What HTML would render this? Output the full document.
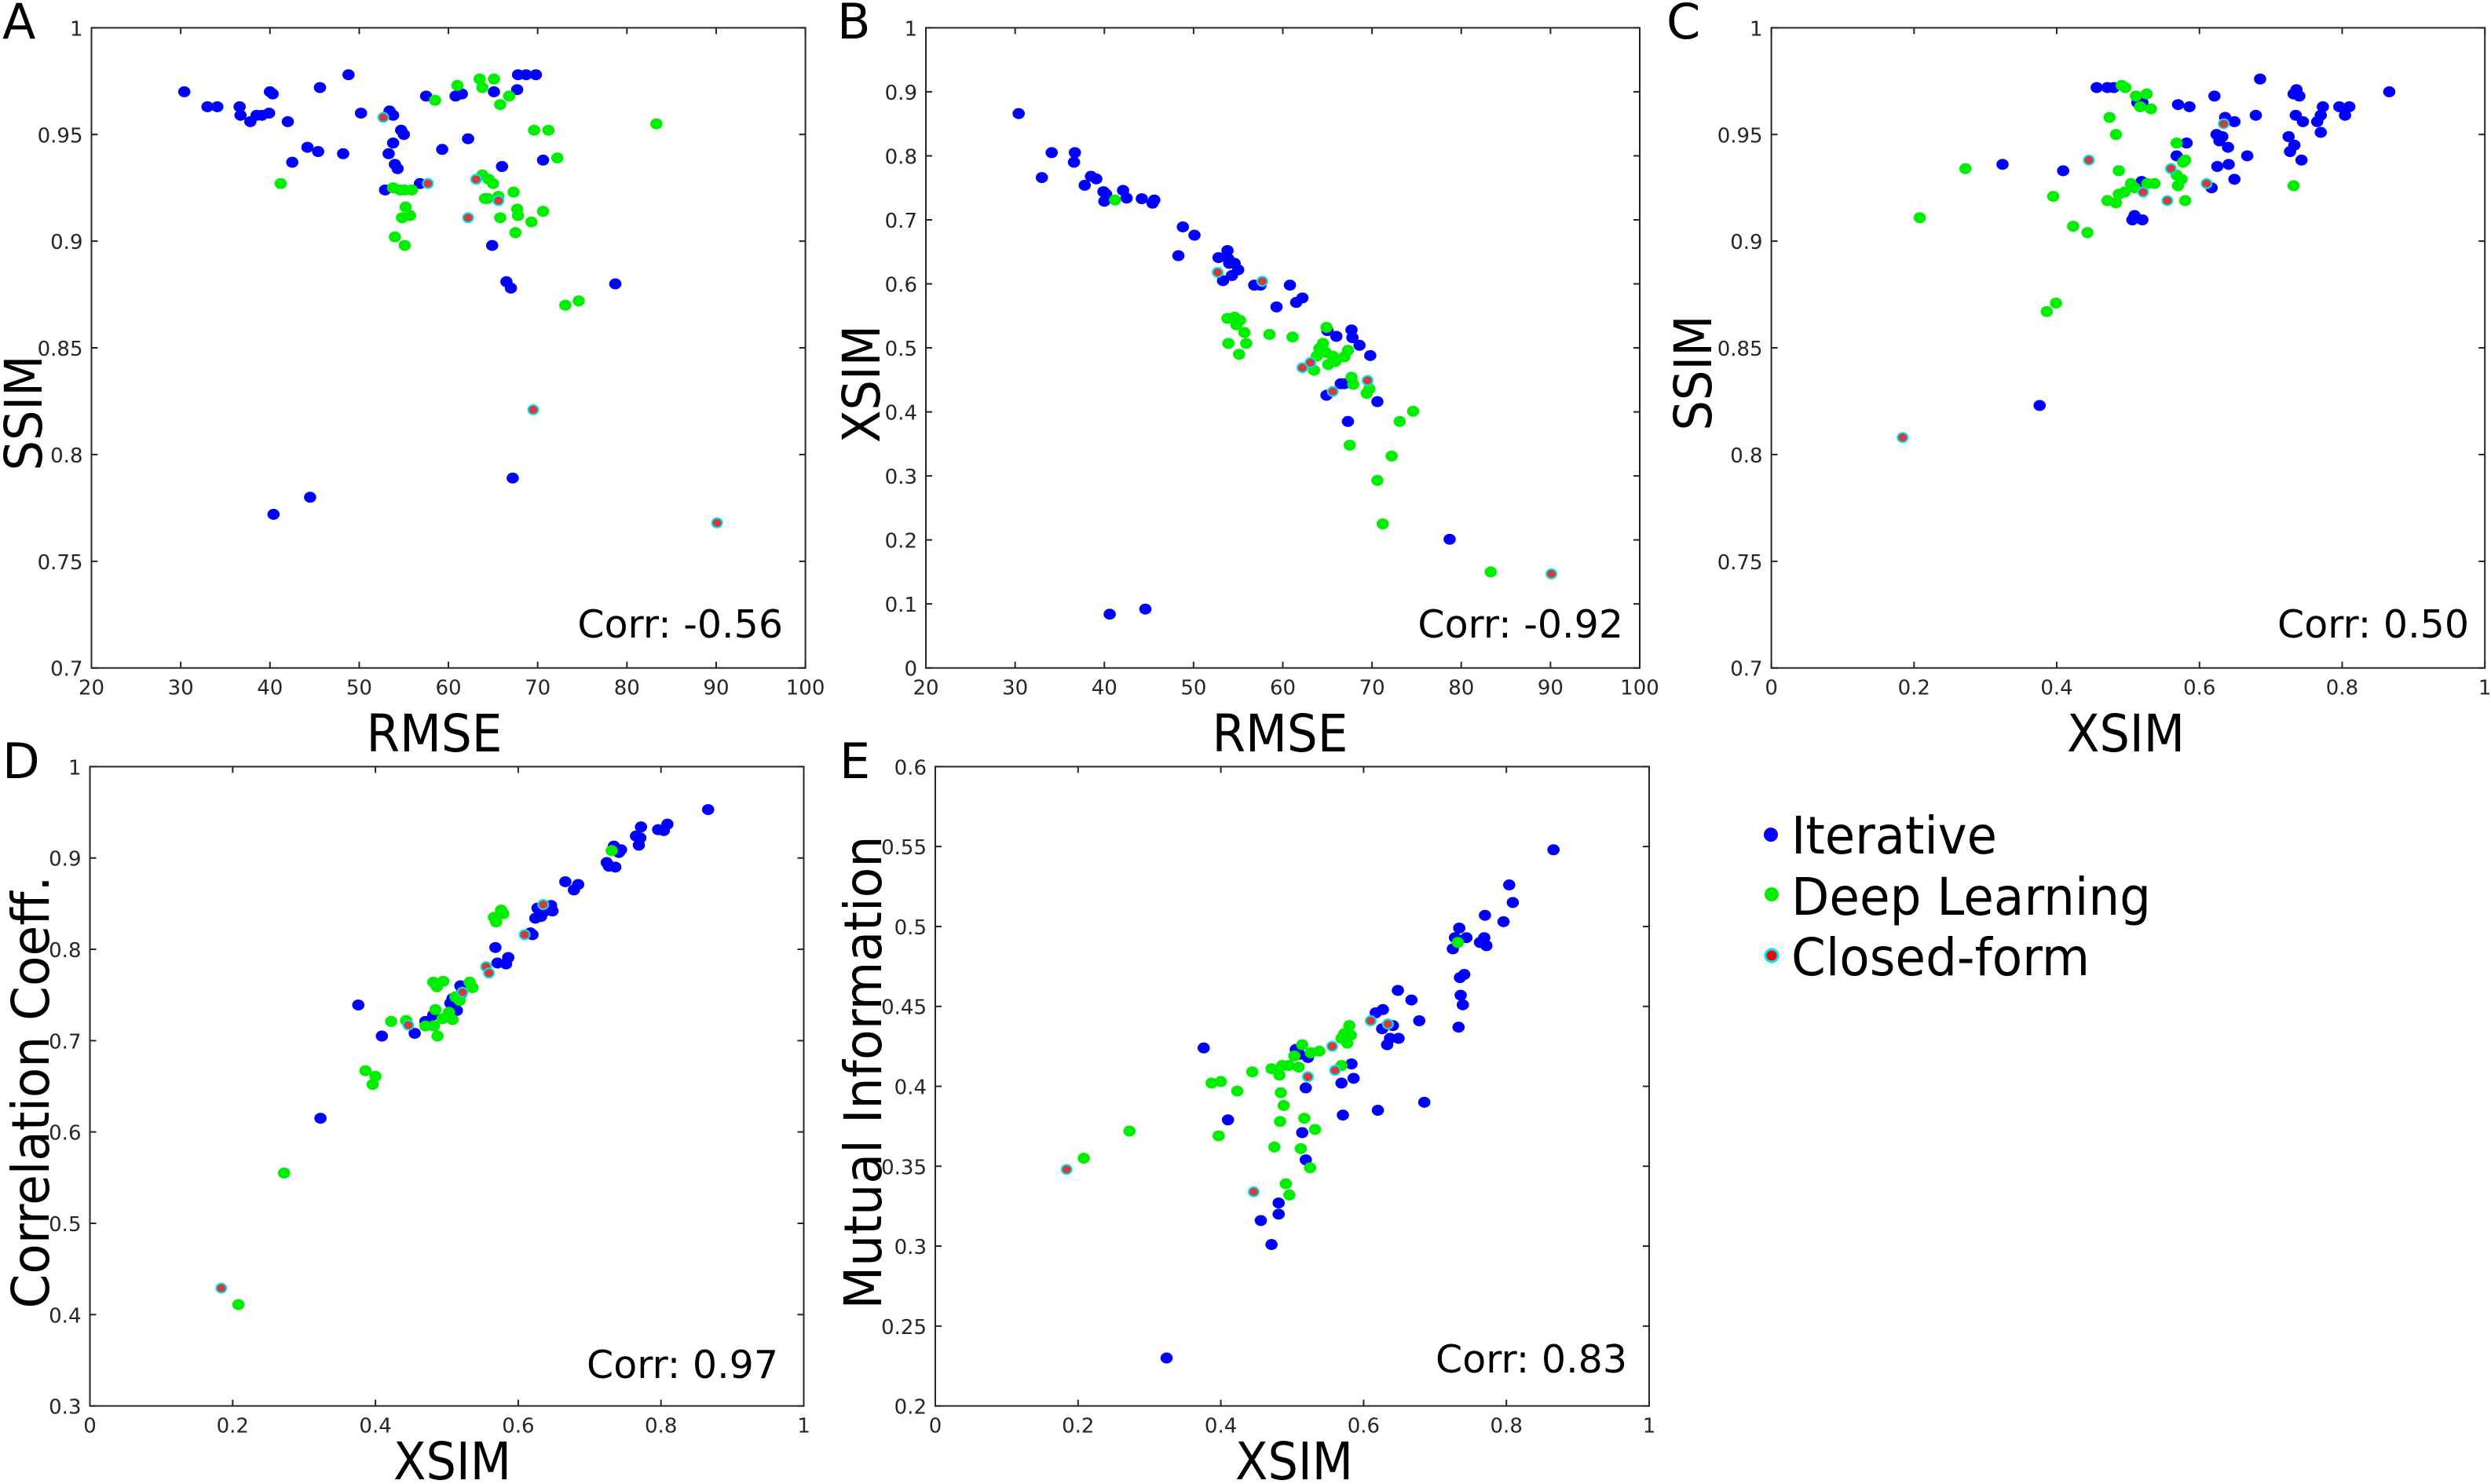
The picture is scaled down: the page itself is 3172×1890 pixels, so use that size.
<!DOCTYPE html>
<html><head><meta charset="utf-8"><style>
html,body{margin:0;padding:0;background:#fff;}
svg{display:block;font-family:"DejaVu Sans","Liberation Sans",sans-serif;}
</style></head><body>
<svg id="fig" width="3172" height="1890" viewBox="0 0 3172 1890" xmlns="http://www.w3.org/2000/svg">
<rect x="0" y="0" width="3172" height="1890" fill="#fff"/>
<g id="panels"></g>
<g font-size="62" fill="#000">
<text x="3" y="49">A</text>
<text x="1066" y="49">B</text>
<text x="2122" y="49">C</text>
<text x="3" y="991">D</text>
<text x="1069" y="991">E</text>
</g>
<g font-size="66" fill="#000" text-anchor="middle">
<text x="553" y="957" textLength="173" lengthAdjust="spacingAndGlyphs">RMSE</text>
<text x="1630" y="957" textLength="173" lengthAdjust="spacingAndGlyphs">RMSE</text>
<text x="2707" y="957" textLength="150" lengthAdjust="spacingAndGlyphs">XSIM</text>
<text x="576" y="1884" textLength="150" lengthAdjust="spacingAndGlyphs">XSIM</text>
<text x="1648" y="1884" textLength="150" lengthAdjust="spacingAndGlyphs">XSIM</text>
<text transform="translate(53,526) rotate(-90)" textLength="147" lengthAdjust="spacingAndGlyphs">SSIM</text>
<text transform="translate(1120,489) rotate(-90)" textLength="150" lengthAdjust="spacingAndGlyphs">XSIM</text>
<text transform="translate(2179,475) rotate(-90)" textLength="147" lengthAdjust="spacingAndGlyphs">SSIM</text>
<text transform="translate(62,1391) rotate(-90)" textLength="551" lengthAdjust="spacingAndGlyphs">Correlation Coeff.</text>
<text transform="translate(1122,1366) rotate(-90)" textLength="603" lengthAdjust="spacingAndGlyphs">Mutual Information</text>
</g>
<g font-size="49" fill="#000" text-anchor="end">
<text x="997" y="812">Corr: -0.56</text>
<text x="2067" y="812">Corr: -0.92</text>
<text x="3144" y="812">Corr: 0.50</text>
<text x="991" y="1755">Corr: 0.97</text>
<text x="2072" y="1748">Corr: 0.83</text>
</g>
<g>
<g>
<circle cx="2255" cy="1063" r="9" fill="#0000ff"/>
<text x="2281" y="1087" font-size="66" textLength="262" lengthAdjust="spacingAndGlyphs">Iterative</text>
</g>
<g>
<circle cx="2256" cy="1139" r="9" fill="#00ee00"/>
<text x="2281" y="1165" font-size="66" textLength="458" lengthAdjust="spacingAndGlyphs">Deep Learning</text>
</g>
<g>
<circle cx="2256" cy="1217" r="8" fill="#ff0000" stroke="#00e8ee" stroke-width="3"/>
<text x="2281" y="1242" font-size="66" textLength="380" lengthAdjust="spacingAndGlyphs">Closed-form</text>
</g>
</g>
</svg>
<script>
// ---- Panel A: RMSE vs SSIM ----
const aIterX=[30.4,33.0,34.1,36.6,36.7,37.8,38.5,39.1,39.9,40.0,40.3,42.0,42.5,44.2,45.4,45.6,48.2,48.8,50.2,52.9,53.3,53.4,53.8,53.8,54.0,54.3,54.7,55.0,56.8,57.5,59.3,60.8,61.5,62.2,64.9,65.1,66.0,66.5,67.0,67.2,67.7,67.8,68.7,69.8,70.6,78.7,40.4,44.5];
const aIterY=[0.970,0.963,0.963,0.963,0.959,0.956,0.959,0.959,0.960,0.970,0.969,0.956,0.937,0.944,0.942,0.972,0.941,0.978,0.960,0.924,0.941,0.961,0.959,0.946,0.936,0.934,0.952,0.950,0.927,0.968,0.943,0.968,0.969,0.948,0.898,0.970,0.935,0.881,0.878,0.789,0.971,0.978,0.978,0.978,0.938,0.880,0.772,0.780];
const aDeepX=[41.2,53.8,54.0,54.6,54.8,55.1,55.1,55.2,55.7,55.9,58.5,61.0,63.5,63.8,63.8,64.1,64.4,64.5,65.0,65.1,65.6,65.8,65.8,66.8,67.3,67.5,67.7,67.8,69.3,69.6,70.6,71.2,72.2,73.1,74.6,83.3];
const aDeepY=[0.927,0.925,0.902,0.924,0.911,0.924,0.898,0.916,0.912,0.924,0.966,0.973,0.976,0.931,0.972,0.920,0.920,0.929,0.927,0.976,0.921,0.964,0.911,0.968,0.923,0.904,0.915,0.912,0.909,0.952,0.914,0.952,0.939,0.870,0.872,0.955];
const aClosedX=[52.7,57.7,62.2,63.1,65.6,69.5,90.1];
const aClosedY=[0.958,0.927,0.911,0.929,0.919,0.821,0.768];
const aXTicks=[20,30,40,50,60,70,80,90,100];
const aXTickLabels=["20","30","40","50","60","70","80","90","100"];
const aYTicks=[0.7,0.75,0.8,0.85,0.9,0.95,1];
const aYTickLabels=["0.7","0.75","0.8","0.85","0.9","0.95","1"];
// ---- Panel B: RMSE vs XSIM ----
const bIterX=[30.4,33.0,34.1,36.7,36.6,37.8,38.5,39.1,39.9,40.0,40.2,42.1,42.5,44.2,45.4,45.6,48.3,48.8,50.1,52.8,53.3,53.8,53.9,54.0,54.3,54.6,55.0,56.8,57.5,59.3,60.8,61.5,62.2,64.9,65.0,66.0,66.5,66.9,67.3,67.7,67.8,68.6,69.8,70.6,78.7,40.6,44.6];
const bIterY=[0.866,0.766,0.805,0.805,0.790,0.754,0.768,0.764,0.744,0.729,0.740,0.746,0.734,0.733,0.726,0.731,0.644,0.689,0.676,0.641,0.605,0.652,0.639,0.632,0.613,0.632,0.622,0.598,0.598,0.564,0.598,0.571,0.578,0.426,0.527,0.518,0.444,0.444,0.385,0.528,0.516,0.504,0.488,0.416,0.201,0.084,0.092];
const bDeepX=[41.2,53.8,53.9,54.6,54.8,55.2,55.1,55.7,55.9,58.5,61.1,64.9,63.5,63.8,64.1,64.5,64.8,65.1,65.6,65.9,66.9,67.3,67.5,67.7,67.9,69.4,69.7,71.2,70.6,72.2,73.1,74.6,83.3];
const bDeepY=[0.731,0.546,0.507,0.548,0.536,0.543,0.490,0.524,0.507,0.521,0.517,0.532,0.465,0.487,0.499,0.507,0.493,0.474,0.487,0.479,0.486,0.496,0.348,0.454,0.443,0.429,0.436,0.225,0.293,0.331,0.385,0.401,0.150];
const bClosedX=[52.7,57.7,62.2,63.1,65.6,69.5,90.1];
const bClosedY=[0.618,0.604,0.469,0.477,0.432,0.449,0.147];
const bXTicks=[20,30,40,50,60,70,80,90,100];
const bXTickLabels=["20","30","40","50","60","70","80","90","100"];
const bYTicks=[0,0.1,0.2,0.3,0.4,0.5,0.6,0.7,0.8,0.9,1];
const bYTickLabels=["0","0.1","0.2","0.3","0.4","0.5","0.6","0.7","0.8","0.9","1"];
// ---- Panel C: XSIM vs SSIM ----
const cIterX=[0.324,0.376,0.409,0.456,0.471,0.480,0.506,0.509,0.513,0.519,0.520,0.520,0.568,0.570,0.582,0.586,0.617,0.621,0.624,0.625,0.628,0.632,0.636,0.640,0.641,0.649,0.649,0.667,0.679,0.685,0.725,0.727,0.732,0.733,0.735,0.736,0.740,0.743,0.745,0.765,0.770,0.770,0.773,0.796,0.804,0.810,0.866];
const cIterY=[0.936,0.823,0.933,0.972,0.972,0.972,0.910,0.912,0.965,0.928,0.965,0.910,0.940,0.964,0.946,0.963,0.925,0.968,0.950,0.935,0.947,0.949,0.958,0.944,0.936,0.956,0.929,0.940,0.959,0.976,0.949,0.942,0.969,0.945,0.959,0.971,0.968,0.938,0.956,0.956,0.951,0.959,0.963,0.963,0.959,0.963,0.970];
const cDeepX=[0.208,0.272,0.386,0.395,0.399,0.423,0.443,0.471,0.474,0.483,0.483,0.487,0.487,0.491,0.495,0.496,0.504,0.509,0.511,0.517,0.526,0.527,0.532,0.537,0.568,0.568,0.570,0.575,0.577,0.580,0.580,0.732];
const cDeepY=[0.911,0.934,0.867,0.921,0.871,0.907,0.904,0.919,0.958,0.950,0.918,0.933,0.922,0.973,0.923,0.972,0.927,0.925,0.968,0.963,0.969,0.927,0.962,0.927,0.946,0.931,0.926,0.929,0.937,0.938,0.919,0.926];
const cClosedX=[0.184,0.445,0.521,0.555,0.560,0.610,0.634];
const cClosedY=[0.808,0.938,0.923,0.919,0.934,0.927,0.955];
const cXTicks=[0,0.2,0.4,0.6,0.8,1];
const cXTickLabels=["0","0.2","0.4","0.6","0.8","1"];
const cYTicks=[0.7,0.75,0.8,0.85,0.9,0.95,1];
const cYTickLabels=["0.7","0.75","0.8","0.85","0.9","0.95","1"];
// ---- Panel D: XSIM vs Correlation ----
const dIterX=[0.323,0.376,0.409,0.455,0.470,0.481,0.505,0.508,0.514,0.519,0.521,0.568,0.571,0.583,0.586,0.617,0.620,0.624,0.627,0.632,0.638,0.646,0.648,0.666,0.678,0.684,0.724,0.727,0.736,0.734,0.741,0.744,0.765,0.769,0.771,0.772,0.796,0.804,0.809,0.866];
const dIterY=[0.615,0.739,0.705,0.708,0.721,0.728,0.741,0.746,0.733,0.760,0.752,0.802,0.785,0.784,0.791,0.818,0.816,0.834,0.845,0.836,0.842,0.848,0.842,0.874,0.865,0.871,0.895,0.891,0.890,0.913,0.906,0.909,0.924,0.914,0.922,0.934,0.931,0.930,0.937,0.953];
const dDeepX=[0.208,0.272,0.386,0.396,0.400,0.422,0.443,0.470,0.481,0.482,0.484,0.486,0.487,0.494,0.495,0.503,0.508,0.512,0.518,0.532,0.536,0.566,0.569,0.576,0.579,0.731];
const dDeepY=[0.411,0.555,0.667,0.652,0.661,0.721,0.722,0.716,0.764,0.716,0.734,0.759,0.705,0.724,0.765,0.731,0.723,0.748,0.744,0.764,0.758,0.835,0.830,0.843,0.839,0.908];
const dClosedX=[0.184,0.446,0.522,0.555,0.559,0.609,0.635];
const dClosedY=[0.429,0.717,0.753,0.781,0.774,0.816,0.849];
const dXTicks=[0,0.2,0.4,0.6,0.8,1];
const dXTickLabels=["0","0.2","0.4","0.6","0.8","1"];
const dYTicks=[0.3,0.4,0.5,0.6,0.7,0.8,0.9,1];
const dYTickLabels=["0.3","0.4","0.5","0.6","0.7","0.8","0.9","1"];
// ---- Panel E: XSIM vs Mutual Information ----
const eIterX=[0.324,0.376,0.410,0.456,0.471,0.481,0.481,0.505,0.510,0.514,0.519,0.519,0.522,0.569,0.571,0.583,0.586,0.617,0.620,0.626,0.627,0.633,0.637,0.641,0.649,0.648,0.667,0.678,0.685,0.725,0.728,0.733,0.734,0.735,0.736,0.739,0.741,0.744,0.763,0.769,0.770,0.772,0.796,0.804,0.809,0.866];
const eIterY=[0.230,0.424,0.379,0.316,0.301,0.327,0.320,0.423,0.420,0.371,0.354,0.399,0.418,0.402,0.382,0.414,0.405,0.446,0.385,0.436,0.448,0.426,0.430,0.438,0.430,0.460,0.454,0.441,0.390,0.486,0.493,0.437,0.499,0.468,0.457,0.451,0.470,0.493,0.490,0.493,0.507,0.488,0.503,0.526,0.515,0.548];
const eDeepX=[0.208,0.272,0.387,0.397,0.400,0.423,0.444,0.471,0.475,0.482,0.483,0.484,0.486,0.488,0.491,0.495,0.496,0.503,0.509,0.512,0.514,0.517,0.525,0.526,0.532,0.538,0.569,0.569,0.573,0.577,0.580,0.582,0.732];
const eDeepY=[0.355,0.372,0.402,0.369,0.403,0.397,0.409,0.411,0.362,0.407,0.378,0.396,0.413,0.388,0.339,0.413,0.332,0.419,0.412,0.361,0.426,0.380,0.349,0.421,0.373,0.422,0.413,0.430,0.433,0.427,0.438,0.432,0.490];
const eClosedX=[0.184,0.446,0.522,0.556,0.560,0.610,0.634];
const eClosedY=[0.348,0.334,0.406,0.425,0.410,0.441,0.439];
const eXTicks=[0,0.2,0.4,0.6,0.8,1];
const eXTickLabels=["0","0.2","0.4","0.6","0.8","1"];
const eYTicks=[0.2,0.25,0.3,0.35,0.4,0.45,0.5,0.55,0.6];
const eYTickLabels=["0.2","0.25","0.3","0.35","0.4","0.45","0.5","0.55","0.6"];

const NS="http://www.w3.org/2000/svg";
const root=document.getElementById('panels');
function mk(tag,parent){const e=document.createElementNS(NS,tag);parent.appendChild(e);return e;}

function drawPanel(id,box,xDom,yDom,xt,xtl,yt,ytl,series){
  const g=mk('g',root);
  
  
  const sx=v=>box.x0+(v-xDom[0])/(xDom[1]-xDom[0])*(box.x1-box.x0);
  const sy=v=>box.y1-(v-yDom[0])/(yDom[1]-yDom[0])*(box.y1-box.y0);
  const frame=mk('rect',g);
  
  
  frame.setAttribute('x',box.x0);frame.setAttribute('y',box.y0);
  frame.setAttribute('width',box.x1-box.x0);frame.setAttribute('height',box.y1-box.y0);
  frame.setAttribute('fill','none');frame.setAttribute('stroke','#262626');frame.setAttribute('stroke-width','2');
  xt.forEach((v,i)=>{
    const x=sx(v);
    const t=mk('path',g);
    
    
    t.setAttribute('d',`M${x},${box.y1}v-8M${x},${box.y0}v8`);
    t.setAttribute('stroke','#262626');t.setAttribute('stroke-width','2');
    const l=mk('text',g);
    
    
    l.setAttribute('x',x);l.setAttribute('y',box.y1+34);
    l.setAttribute('text-anchor','middle');l.setAttribute('font-size','26');l.setAttribute('fill','#262626');
    l.textContent=xtl[i];
  });
  yt.forEach((v,i)=>{
    const y=sy(v);
    const t=mk('path',g);
    
    
    t.setAttribute('d',`M${box.x0},${y}h8M${box.x1},${y}h-8`);
    t.setAttribute('stroke','#262626');t.setAttribute('stroke-width','2');
    const l=mk('text',g);
    
    
    l.setAttribute('x',box.x0-11);l.setAttribute('y',y+10);
    l.setAttribute('text-anchor','end');l.setAttribute('font-size','26');l.setAttribute('fill','#262626');
    l.textContent=ytl[i];
  });
  series.forEach(s=>{
    const sg=mk('g',g);
    
    
    s.xs.forEach((xv,i)=>{
      const c=mk('ellipse',sg);
      
      
      c.setAttribute('cx',sx(xv));c.setAttribute('cy',sy(s.ys[i]));
      if(s.name==='closed-form'){
        c.setAttribute('rx',6.5);c.setAttribute('ry',6);
        c.setAttribute('fill','#d23c3c');c.setAttribute('stroke','#00e5ee');c.setAttribute('stroke-width','2');
      }else{
        c.setAttribute('rx',7.8);c.setAttribute('ry',7);
        c.setAttribute('fill',s.color);
      }
    });
  });
}
const R1={y0:35.4,y1:850.7}, R2={y0:976.4,y1:1790.6};
drawPanel('a',{x0:116.5,x1:1025.6,...R1},[20,100],[0.7,1],aXTicks,aXTickLabels,aYTicks,aYTickLabels,
 [{name:'iterative',color:'#0000ff',xs:aIterX,ys:aIterY},{name:'deep-learning',color:'#00ee00',xs:aDeepX,ys:aDeepY},{name:'closed-form',xs:aClosedX,ys:aClosedY}]);
drawPanel('b',{x0:1179,x1:2088,...R1},[20,100],[0,1],bXTicks,bXTickLabels,bYTicks,bYTickLabels,
 [{name:'iterative',color:'#0000ff',xs:bIterX,ys:bIterY},{name:'deep-learning',color:'#00ee00',xs:bDeepX,ys:bDeepY},{name:'closed-form',xs:bClosedX,ys:bClosedY}]);
drawPanel('c',{x0:2255.6,x1:3164.2,...R1},[0,1],[0.7,1],cXTicks,cXTickLabels,cYTicks,cYTickLabels,
 [{name:'iterative',color:'#0000ff',xs:cIterX,ys:cIterY},{name:'deep-learning',color:'#00ee00',xs:cDeepX,ys:cDeepY},{name:'closed-form',xs:cClosedX,ys:cClosedY}]);
drawPanel('d',{x0:114.5,x1:1023.5,...R2},[0,1],[0.3,1],dXTicks,dXTickLabels,dYTicks,dYTickLabels,
 [{name:'iterative',color:'#0000ff',xs:dIterX,ys:dIterY},{name:'deep-learning',color:'#00ee00',xs:dDeepX,ys:dDeepY},{name:'closed-form',xs:dClosedX,ys:dClosedY}]);
drawPanel('e',{x0:1191,x1:2100,...R2},[0,1],[0.2,0.6],eXTicks,eXTickLabels,eYTicks,eYTickLabels,
 [{name:'iterative',color:'#0000ff',xs:eIterX,ys:eIterY},{name:'deep-learning',color:'#00ee00',xs:eDeepX,ys:eDeepY},{name:'closed-form',xs:eClosedX,ys:eClosedY}]);
</script>
</body></html>
